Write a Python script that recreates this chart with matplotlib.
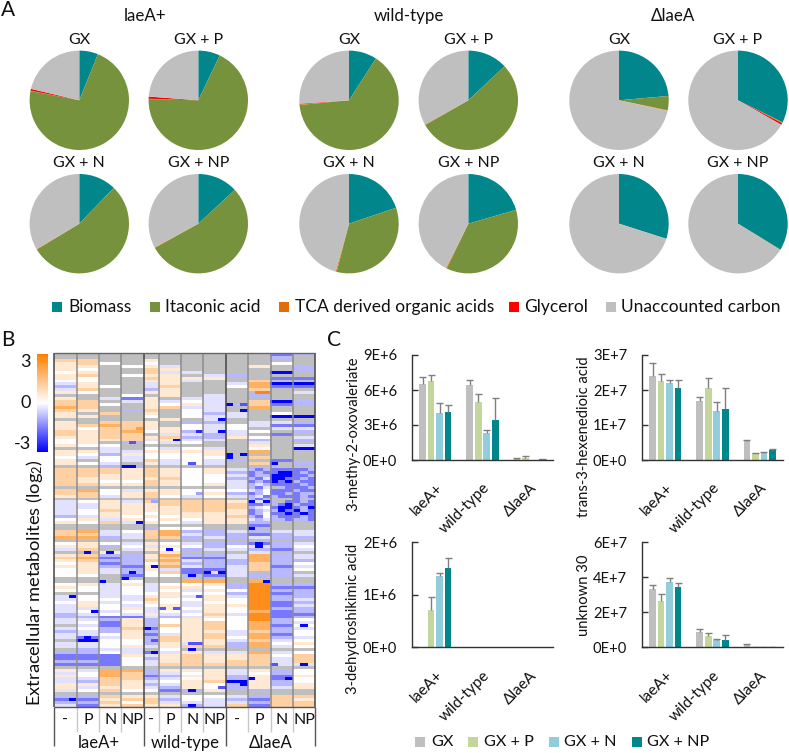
import numpy as np
import matplotlib
matplotlib.use("Agg")
import matplotlib.pyplot as plt
from matplotlib.colors import LinearSegmentedColormap
from matplotlib.patches import Rectangle
from matplotlib.lines import Line2D

W, H = 789, 753
FONT = ['Lato', 'DejaVu Sans']
plt.rcParams['font.family'] = FONT
plt.rcParams['mathtext.default'] = 'regular'

# ---------- data ----------
pie_parts = ['Biomass', 'Itaconic acid', 'TCA derived organic acids', 'Glycerol', 'Unaccounted carbon']
pie_colors = ['#00868B', '#76923C', '#E36C0A', '#FF0000', '#BFBFBF']
pie_strains = ['laeA+', 'wild-type', 'ΔlaeA']
pie_media = ['GX', 'GX + P', 'GX + N', 'GX + NP']
pie_laeA = [[6.1, 71.9, 0.1, 0.6, 21.3], [7.1, 68.3, 0.1, 0.7, 23.8],
            [12.2, 54.1, 0.2, 0.0, 33.5], [13.1, 53.8, 0.2, 0.0, 32.9]]
pie_wild = [[9.1, 64.4, 0.2, 0.2, 26.1], [13.0, 53.7, 0.2, 0.0, 33.1],
            [19.8, 34.2, 0.3, 0.0, 45.7], [20.5, 36.6, 0.3, 0.0, 42.6]]
pie_delta = [[23.6, 4.6, 0.2, 0.0, 71.6], [32.3, 0.2, 0.1, 0.6, 66.8],
             [29.9, 0.1, 0.0, 0.0, 70.0], [33.7, 0.2, 0.0, 0.0, 66.1]]

# one string per metabolite: laeA+ (-,P,N,NP) wild-type (-,P,N,NP) dlaeA (-,P,N,NP)
heat_rows = """
gggg gggg ggbc
gggg gggg ggcg
22gg 1ggg gggg
12wg wggg ggwg
11gw 1dgg g1gc
1wgg 21gg gggc
w1gg 2ddg ggag
12gw 11gd cggg
1wgg 2111 ggbb
wwgg 11dg g2gg
d1gg d1gg d3aa
c1wg d2gg w3bb
d2gg c1gg g2gg
1wgg 11gg gggd
gggw g1gd gcgg
1gdb 1gdd gggg
22gd 1dwd g2ac
22wg 1w1d c2bc
32gg 12dd g3gg
21gc 2gwd gggg
1g2g 1gwc dgwg
11gg wgwd dgaa
gggg g1gd gggg
1g22 1gcc gddc
1232 1gwd wdbb
1w22 11wd wgdd
2123 w1cd dwgc
2122 gddc dgbg
1122 12cc 1wgd
w112 d1dd gcgc
w1gc wdwg gdgg
1wwg gggg g1gd
ggdg wdwd gwga
11dd 1111 g3gg
1wc1 www1 gggg
wdwd wwww g2gg
1gwd 2dwd cgbg
1wdg 1dwd g2gc
ggcc gggg gggg
2221 21w1 dbgg
2221 21w1 cbba
2211 21ww dbbb
2111 12ww cbbb
21ww 21ww dcaa
2211 21w1 dcbc
gggg gggg ddbb
23wd 11ww wcbb
22w1 21w1 ccbb
12d1 2wdw dbbc
gggg gggg gbgc
dw1d 2222 1bcb
dd11 1222 2bcc
dd11 1122 2bbb
dw21 1122 1bbb
dw11 w111 1bbb
cd1w 1w11 2bbb
w1d1 w1w1 1cbc
1w2d 1wd1 1cgg
gggg gggg gbgg
gggg cwwg gggg
23dw 23cc dcdd
22dd 23dc cbcd
33cd 22cd cdcc
gggg gggg gggg
w1wd 1wdc cbcd
11cw d1wc wdcw
d2gd 1wcd dcbd
gg1g g1gg gdgg
12cc 13cc d3cd
23bc 12bb d3cd
12cc 23dc c3cc
w1bc w2cc c2cw
11cb 13dc d2bd
w1dc 1dbb d2cw
w1dc w2bb dgcg
wwgb wwcb dccd
gggg gggg gggg
gggw gg33 g3gg
w1d1 dww1 c4cc
1wdw d11w c4bb
wwdw dwd1 w4cc
ggdw w1ww c4bc
dwdd 11d1 d4cc
dwwd 2ww1 w4cd
w1dw 1wdw w4bc
d1wd w1d1 14bd
ddw1 d1w1 w4cc
dwdw dwd1 w3bc
cdwd 1dw2 d4bb
ccbb dcd1 w4bc
ddc1 cw1w w4cw
dwb1 cw12 w3cd
gdb1 c212 w3bw
dwc2 bw12 w3cd
cdc1 cw11 d2cw
ddw1 bd12 d3bw
dbd1 c212 w3cd
gaww c211 d2dw
ddww c1d1 c3w1
ddw1 d122 c3dw
gcdd gwgg gggg
ccwd bd1d d3dw
bbb1 d121 12w2
bbbw c121 12d2
ccbw d121 22d2
bbbw d222 22dd
gggg gggg gggg
1d33 c111 d1cw
dw32 cdw1 dwcw
1w32 bc11 c1b1
dd22 cdw1 c1bw
dc21 dw12 a1cw
1121 cd1w c1c1
1d11 dc1w c1d1
dw2w wbc1 gcgg
gggg gggg gggg
cc21 1dww dc22
bb12 2cwd cb21
cc2w 2ddd dc22
db12 11cd 2b22
""".split('\n')
heat_codes = {'w': 0.0, '1': 0.6, '2': 1.3, '3': 2.2, '4': 3.2,
              'd': -0.4, 'c': -1.0, 'b': -1.9, 'a': -3.6, 'g': np.nan}
replicates = [3, 3, 3, 3, 2, 3, 3, 3, 3, 3, 3, 3]
# replicate-level reading of the mottled dlaeA block (P, N, NP), first row 39
delta_first_row = 39
delta_detail = """
cbc bbb bbc
bcb baa bcb
bcc aaa bbc
cbd aab bcb
bcb aba cbb
cdc bbb bcb
cbd gcb bbc
dcw bbb cbb
bcw bbc bcc
cdb cbb bcb
cbg ggg bgc
ada cgb bcb
bbc gba cbb
cdw baa bca
bcd cab acb
bcw bba bab
cbw cbb bcb
dcd ccb ccb
""".split('\n')
# single outlying cells: (row, replicate column, value)
heat_spots = [(29, 16, -3.6), (22, 22, -3.6), (26, 22, -3.6), (26, 19, -3.0), (17, 23, -3.6), (17, 25, -2.4),
              (19, 25, -3.6), (13, 27, 3.4), (13, 28, 3.4), (21, 31, -3.6), (25, 11, 2.6), (30, 10, -2.4),
              (34, 23, -3.6), (35, 23, -3.6), (34, 25, -3.6), (32, 32, -3.6), (38, 10, -3.6), (38, 9, -3.6),
              (37, 29, -3.6), (37, 18, -2.4), (59, 26, -3.6), (57, 11, -3.6), (50, 13, -1.3), (47, 19, -1.3),
              (64, 27, -3.6), (65, 27, -3.6), (66, 15, -3.6), (67, 4, -3.6), (67, 7, -3.6), (72, 13, -3.6),
              (77, 6, -3.6), (75, 18, -3.6), (74, 20, -3.6), (74, 21, 1.0), (74, 22, -3.6), (74, 10, -3.6),
              (76, 9, -3.6), (77, 28, -3.6), (82, 2, -3.6), (87, 5, -3.6), (82, 19, -2.4), (86, 14, -2.4),
              (86, 16, -2.4), (96, 4, -3.6), (97, 4, -3.6), (93, 12, -3.6), (101, 13, -3.6), (97, 13, -2.4),
              (100, 18, -3.6), (98, 18, -2.4), (98, 19, -2.4), (92, 33, -3.6), (105, 33, -3.6), (105, 29, -2.4),
              (111, 25, -3.6), (112, 25, -3.6), (111, 24, -3.6), (110, 26, -3.6), (110, 31, -3.6), (114, 18, -3.6),
              (117, 2, -3.6), (113, 22, -2.4), (119, 18, -3.6)]
heat_groups = ['laeA+', 'wild-type', 'ΔlaeA']
heat_conditions = ['-', 'P', 'N', 'NP']
cbar_ticks = [3, 0, -3]

bar_media = ['GX', 'GX + P', 'GX + N', 'GX + NP']
bar_colors = ['#BFBFBF', '#C3D69B', '#92CDDC', '#00868B']
bar_groups = ['laeA+', 'wild-type', 'ΔlaeA']
bar_names = ['3-methy-2-oxovaleriate', 'trans-3-hexenedioic acid', '3-dehydroshikimic acid', 'unknown 30']
bar_limits = [9e6, 3e7, 2e6, 6e7]
bar_ticks = [[0, 3e6, 6e6, 9e6], [0, 1e7, 2e7, 3e7], [0, 1e6, 2e6], [0, 2e7, 4e7, 6e7]]
bar_ticklabels = [['0E+0', '3E+6', '6E+6', '9E+6'], ['0E+0', '1E+7', '2E+7', '3E+7'],
                  ['0E+0', '1E+6', '2E+6'], ['0E+0', '2E+7', '4E+7', '6E+7']]
bar_values = [
    [[6.5e6, 6.8e6, 4.0e6, 4.15e6], [6.4e6, 5.0e6, 2.35e6, 3.4e6], [0.15e6, 0.2e6, 0, 0.05e6]],
    [[2.4e7, 2.25e7, 2.2e7, 2.05e7], [1.7e7, 2.07e7, 1.4e7, 1.45e7], [0.55e7, 0.2e7, 0.2e7, 0.3e7]],
    [[0, 0.71e6, 1.35e6, 1.51e6], [0, 0, 0, 0], [0, 0, 0, 0]],
    [[3.35e7, 2.65e7, 3.75e7, 3.45e7], [0.9e7, 0.65e7, 0.42e7, 0.42e7], [0.18e7, 0.03e7, 0.03e7, 0.03e7]],
]
bar_tops = [
    [[7.1e6, 7.3e6, 4.85e6, 4.75e6], [6.85e6, 5.7e6, 2.55e6, 5.35e6], [0.2e6, 0.35e6, 0, 0.05e6]],
    [[2.78e7, 2.45e7, 2.3e7, 2.28e7], [1.8e7, 2.35e7, 1.65e7, 2.05e7], [0.57e7, 0.2e7, 0.23e7, 0.32e7]],
    [[0, 0.95e6, 1.42e6, 1.7e6], [0, 0, 0, 0], [0, 0, 0, 0]],
    [[3.55e7, 3.05e7, 3.97e7, 3.67e7], [1.03e7, 0.8e7, 0.5e7, 0.7e7], [0.2e7, 0.04e7, 0.04e7, 0.04e7]],
]

# ---------- helpers ----------
fig = plt.figure(figsize=(W / 100, H / 100), dpi=100, facecolor='white')


def axpx(x0, y0, x1, y1, **kw):
    return fig.add_axes([x0 / W, 1 - y1 / H, (x1 - x0) / W, (y1 - y0) / H], **kw)


def txt(x, y, s, size=12.5, ha='center', va='center', **kw):
    return fig.text(x / W, 1 - y / H, s, fontsize=size, ha=ha, va=va, color='#111111', **kw)


def rect(x0, y0, x1, y1, color):
    fig.add_artist(Rectangle((x0 / W, 1 - y1 / H), (x1 - x0) / W, (y1 - y0) / H,
                             transform=fig.transFigure, facecolor=color, edgecolor='none'))


def line(x0, y0, x1, y1, color, lw=1.0):
    fig.add_artist(Line2D([x0 / W, x1 / W], [1 - y0 / H, 1 - y1 / H], color=color, lw=lw,
                          transform=fig.transFigure, solid_capstyle='butt'))


# ---------- A: pies ----------
txt(8, 10, 'A', size=15)
pie_cx = [[79.3, 198.3], [349.0, 468.3], [619.0, 738.0]]
pie_cy = [100.3, 223.7]
pie_r = 49.7
pie_title_x = [145, 409, 673]
for s, data in enumerate([pie_laeA, pie_wild, pie_delta]):
    txt(pie_title_x[s], 16, pie_strains[s], size=12.2)
    for m, vals in enumerate(data):
        cx = pie_cx[s][m % 2]
        cy = pie_cy[m // 2]
        ax = axpx(cx - pie_r, cy - pie_r, cx + pie_r, cy + pie_r)
        ax.pie(vals, colors=pie_colors, startangle=90, counterclock=False, radius=1.0,
               wedgeprops={'linewidth': 0})
        ax.set_xlim(-1, 1)
        ax.set_ylim(-1, 1)
        ax.set_aspect('equal')
        txt(cx, cy - 60.5, pie_media[m], size=11.5)

leg_square = [52, 150, 279, 509, 606]
leg_text = [68, 165, 295, 524, 621]
for name, col, x0, xt in zip(pie_parts, pie_colors, leg_square, leg_text):
    rect(x0, 302, x0 + 10, 312, col)
    txt(xt, 306.5, name, size=12.5, ha='left')

# ---------- B: heat map ----------
txt(8, 340, 'B', size=15)
cond_vals = [[heat_codes[c] for c in r.replace(' ', '')] for r in heat_rows if r.strip()]
cond_vals = np.array(cond_vals)
grid = np.repeat(cond_vals, replicates, axis=1)
delta_rows = [r.replace(' ', '') for r in delta_detail if r.strip()]
for i, r in enumerate(delta_rows):
    grid[delta_first_row + i, 26:35] = [heat_codes[c] for c in r]
for r, c, v in heat_spots:
    grid[r, c] = v
cmap = LinearSegmentedColormap.from_list('bwo', ['#0000FF', '#FFFFFF', '#FF8000'])
cmap.set_bad('#BFBFBF')
hx0, hx1, hy0, hy1 = 54.3, 315.3, 352.7, 706.7
ax = axpx(hx0, hy0, hx1, hy1)
ax.imshow(np.ma.masked_invalid(grid), cmap=cmap, vmin=-3.6, vmax=3.6, aspect='auto', interpolation='nearest')
ax.set_axis_off()

cum = np.cumsum(replicates)
cw = (hx1 - hx0) / cum[-1]
edges = [hx0] + [hx0 + cw * c for c in cum]
for i, x in enumerate(edges):
    major = i % 4 == 0
    line(x, hy0, x, hy1, '#444444' if major else '#8C8C8C', 1.1)
    line(x, hy1, x, 745.5 if major else 732, '#555555' if major else '#C8C8C8', 1.0)
line(hx0, hy0, hx1, hy0, '#666666', 1.0)
line(hx0, hy1, hx1, hy1, '#555555', 1.0)
for i in range(12):
    txt((edges[i] + edges[i + 1]) / 2, 720, heat_conditions[i % 4], size=11.5)
for g in range(3):
    txt((edges[g * 4] + edges[g * 4 + 4]) / 2, 743, heat_groups[g], size=12)

cax = axpx(37.3, 354.3, 47.7, 452.3)
cax.imshow(np.linspace(3.6, -3.6, 256)[:, None], cmap=cmap, vmin=-3.6, vmax=3.6, aspect='auto')
cax.set_axis_off()
cbar_y = {3: 362, 0: 403, -3: 444}
for t in cbar_ticks:
    txt(31, cbar_y[t], str(t), size=13, ha='right')
txt(35, 583, 'Extracellular metabolites (log$_2$)', size=13.2, rotation=90)

# ---------- C: bars ----------
txt(334, 340, 'C', size=15)
frames = [(411.7, 355, 553.3, 460), (641.7, 355, 783.3, 460),
          (411.7, 542.3, 553.3, 647.3), (641.7, 542.3, 783.3, 647.3)]
ylab_pos = [(353, 434), (584, 437), (353, 619), (584, 595)]
offs = np.array([-0.27, -0.09, 0.09, 0.27])
for k, fr in enumerate(frames):
    ax = axpx(*fr)
    for g in range(3):
        for m in range(4):
            v = bar_values[k][g][m]
            t = bar_tops[k][g][m]
            if v == 0 and t == 0:
                continue
            x = g + 0.5 + offs[m]
            ax.bar(x, v, 0.145, color=bar_colors[m], linewidth=0)
            ax.vlines(x, v, t, color='#7F7F7F', lw=1.0)
            ax.hlines(t, x - 0.075, x + 0.075, color='#7F7F7F', lw=1.0)
    ax.set_xlim(0, 3)
    ax.set_ylim(0, bar_limits[k])
    ax.set_yticks(bar_ticks[k])
    ax.set_yticklabels(bar_ticklabels[k], fontsize=10.6, color='#111111')
    ax.set_xticks([0.5, 1.5, 2.5])
    ax.set_xticklabels(bar_groups, rotation=45, ha='right', va='top', rotation_mode='anchor',
                       fontsize=11.2, color='#111111')
    ax.tick_params(axis='y', direction='in', length=4, width=1, color='#333333', pad=10.5)
    ax.tick_params(axis='x', length=0, pad=15)
    ax.spines[['top', 'right']].set_visible(False)
    ax.spines[['left', 'bottom']].set_color('#333333')
    ax.spines[['left', 'bottom']].set_linewidth(1)
    ax.patch.set_alpha(0)
    txt(ylab_pos[k][0], ylab_pos[k][1], bar_names[k], size=10.6, rotation=90)

b_square = [415.3, 468, 549, 631.7]
b_text = [431, 483.7, 564, 646.7]
for name, col, x0, xt in zip(bar_media, bar_colors, b_square, b_text):
    rect(x0, 737, x0 + 10, 747, col)
    txt(xt, 742, name, size=11.7, ha='left')

fig.savefig('out.png', dpi=100)
